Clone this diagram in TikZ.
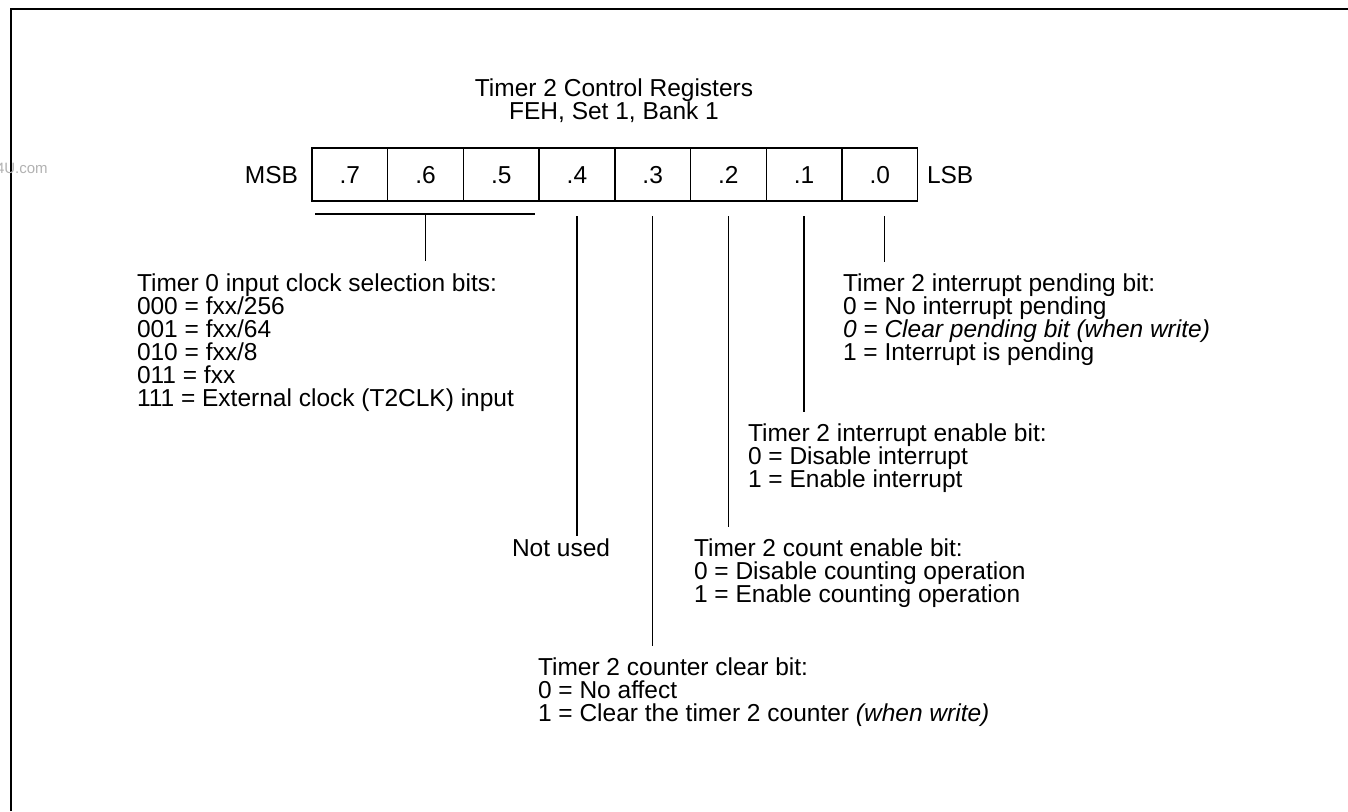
\documentclass[tikz,border=0pt]{standalone}
\usepackage{fontspec}
\setmainfont{Liberation Sans}
\usetikzlibrary{positioning,calc}

\begin{document}
\begin{tikzpicture}[x=1pt,y=-1pt,
    every node/.style={font=\fontsize{24.5}{23}\selectfont,inner sep=0pt,outer sep=0pt},
    bitcell/.style={draw,line width=1.4pt,minimum width=75.7pt,minimum height=53pt,
      text height=17.5pt,text depth=0pt},
    desc/.style={anchor=north west,align=left},
    lead/.style={line width=1.2pt}]
  \useasboundingbox (0,0) rectangle (1348,811);
  % Frame
  \draw[line width=2pt] (11,811) -- (11,9) -- (1348,9);
  \node[anchor=west,text=black!30,font=\fontsize{15}{18}\selectfont] (wm) at (-4,168) {4U.com};
  % Title
  \node[anchor=north,align=center] (ttl) at (614,79) {Timer 2 Control Registers\\FEH, Set 1, Bank 1};
  % Register cells
  \foreach \b [count=\i from 0] in {7,6,5,4,3,2,1,0}
    \node[bitcell] (b\b) at (349.85+75.7*\i,174.5) {.\b};
  \node[anchor=east,text height=17.5pt,text depth=0pt] (msb) at (298,174.5) {MSB};
  \node[anchor=west,text height=17.5pt,text depth=0pt] (lsb) at (927,174.5) {LSB};
  % Descriptions
  \node[desc] (clk) at (137,274) {Timer 0 input clock selection bits:\\000 = fxx/256\\001 = fxx/64\\010 = fxx/8\\011 = fxx\\111 = External clock (T2CLK) input};
  \node[desc] (pnd) at (843,274) {Timer 2 interrupt pending bit:\\0 = No interrupt pending\\\textit{0 = Clear pending bit (when write)}\\1 = Interrupt is pending};
  \node[desc] (ien) at (748,424) {Timer 2 interrupt enable bit:\\0 = Disable interrupt\\1 = Enable interrupt};
  \node[desc] (cen) at (694,539) {Timer 2 count enable bit:\\0 = Disable counting operation\\1 = Enable counting operation};
  \node[desc] (nu) at (512,539) {Not used};
  \node[desc] (clr) at (538,658) {Timer 2 counter clear bit:\\0 = No affect\\1 = Clear the timer 2 counter \textit{(when write)}};
  % Leaders
  \coordinate (bl) at ([yshift=-13pt,xshift=3pt]b7.south west);
  \coordinate (br) at ([yshift=-13pt,xshift=-4pt]b5.south east);
  \coordinate (bm) at (bl -| b6);
  \draw[lead] (bl) -- (br);
  \draw[lead] (bm) -- ($(bm |- clk.north)+(0,-13)$);
  \foreach \b/\d/\t/\g in {4/0/nu/3,3/0/clr/12,2/0/cen/12,1/0/ien/12,0/5/pnd/12}{
    \coordinate (t\b) at ([yshift=-15pt,xshift=\d pt]b\b.south);
    \draw[lead] (t\b) -- ($(t\b |- \t.north)+(0,-\g)$);
  }
\end{tikzpicture}
\end{document}
